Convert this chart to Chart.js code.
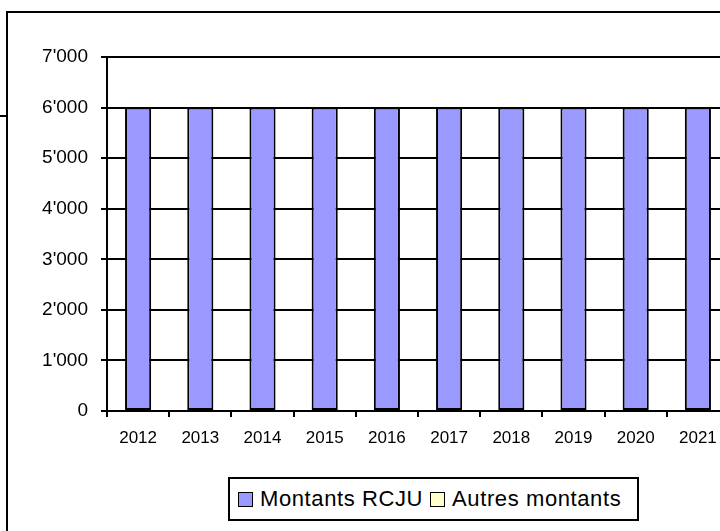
<!DOCTYPE html>
<html>
<head>
<meta charset="utf-8">
<script src="https://cdn.jsdelivr.net/npm/chart.js@4/dist/chart.umd.min.js"></script>
<style>
  html, body { margin: 0; padding: 0; background: #fff; overflow: hidden; width: 720px; height: 531px; }
  #wrap { position: absolute; left: 0; top: 0; width: 760px; height: 531px; }
  .frame { position: absolute; left: 6px; top: 11px; width: 800px; height: 600px;
           border-left: 2px solid #000; border-top: 2px solid #000; box-sizing: border-box; }
  .stub { position: absolute; left: 0; top: 115px; width: 7px; height: 2px; background: #000; }
  #legend { position: absolute; left: 228px; top: 477px; width: 411px; height: 44px; box-sizing: border-box;
            border: 2px solid #000; background: #fff; display: flex; align-items: center;
            padding-left: 8px; font-family: "Liberation Sans", Arial, sans-serif; font-size: 22px;
            letter-spacing: 0.6px; color: #000; }
  #legend .item { display: flex; align-items: center; margin-right: 7px; }
  #legend .box { width: 13px; height: 13px; border: 1.5px solid #000; margin-right: 7px; }
</style>
</head>
<body>
<div class="frame"></div>
<div class="stub"></div>
<div id="wrap"><canvas id="chart" width="760" height="531"></canvas></div>
<div id="legend"></div>
<script>
  // Data
  const years = ["2012", "2013", "2014", "2015", "2016", "2017", "2018", "2019", "2020", "2021"];
  const montantsRCJU = [6000, 6000, 6000, 6000, 6000, 6000, 6000, 6000, 6000, 6000];
  const autresMontants = [0, 0, 0, 0, 0, 0, 0, 0, 0, 0];
  const yMax = 7000;
  const yStep = 1000;

  // Swiss thousands separator
  function formatTick(v) {
    return String(v).replace(/\B(?=(\d{3})+(?!\d))/g, "'");
  }

  const ctx = document.getElementById("chart").getContext("2d");
  const chart = new Chart(ctx, {
    type: "bar",
    data: {
      labels: years,
      datasets: [
        {
          label: "Montants RCJU",
          data: montantsRCJU,
          backgroundColor: "#9999FF",
          borderColor: "#000000",
          borderWidth: 2,
          borderSkipped: false,
        },
        {
          label: "Autres montants",
          data: autresMontants,
          backgroundColor: "#FFFFCC",
          borderColor: "#000000",
          borderWidth: 0,
        },
      ],
    },
    options: {
      responsive: false,
      animation: false,
      devicePixelRatio: 1,
      layout: { padding: { left: 0, top: 57, right: 31, bottom: 80 } },
      datasets: { bar: { categoryPercentage: 1, barPercentage: 0.42 } },
      plugins: {
        legend: { display: false },
        tooltip: { enabled: false },
      },
      scales: {
        x: {
          stacked: true,
          offset: true,
          afterFit: function (scale) { scale.height = 40; },
          grid: {
            offset: true,
            drawOnChartArea: false,
            drawTicks: true,
            tickLength: 6,
            color: "#000",
            lineWidth: 2,
          },
          border: { color: "#000", width: 2 },
          ticks: {
            color: "#000",
            padding: 11,
            maxRotation: 0,
            font: { family: "Liberation Sans", size: 17 },
          },
        },
        y: {
          stacked: true,
          min: 0,
          max: yMax,
          afterFit: function (scale) { scale.width = 107; },
          grid: { color: "#000", lineWidth: 2, tickLength: 6 },
          border: { color: "#000", width: 2 },
          ticks: {
            stepSize: yStep,
            color: "#000",
            padding: 13,
            font: { family: "Liberation Sans", size: 19 },
            callback: function (v) { return formatTick(v); },
          },
        },
      },
    },
  });

  // Legend built from the chart's datasets
  const legendEl = document.getElementById("legend");
  chart.data.datasets.forEach(function (ds) {
    const item = document.createElement("div");
    item.className = "item";
    const box = document.createElement("span");
    box.className = "box";
    box.style.background = ds.backgroundColor;
    const txt = document.createElement("span");
    txt.textContent = ds.label;
    item.appendChild(box);
    item.appendChild(txt);
    legendEl.appendChild(item);
  });
</script>
</body>
</html>
